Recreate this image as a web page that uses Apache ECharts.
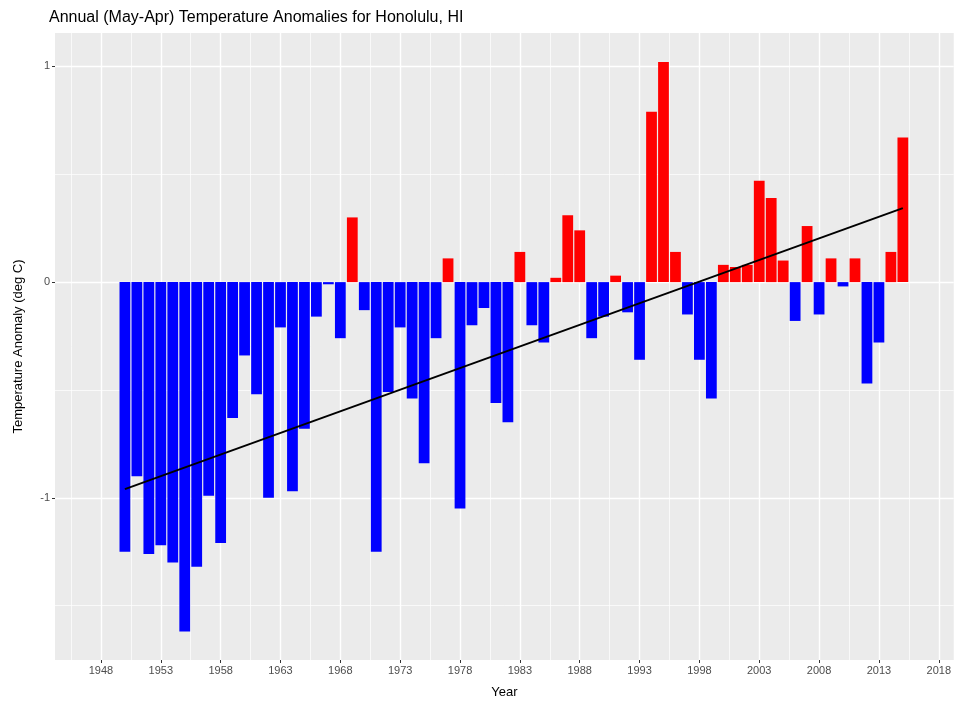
<!DOCTYPE html>
<html>
<head>
<meta charset="utf-8">
<script src="https://cdn.jsdelivr.net/npm/echarts@6/dist/echarts.min.js"></script>
<style>
  html, body { margin: 0; padding: 0; background: #fff; }
  #main { width: 954px; height: 704px; }
</style>
</head>
<body>
<div id="main"></div>
<script>
// annual (May-Apr) anomalies, deg C
var years = [];
for (var y = 1950; y <= 2015; y++) years.push(y);

var anomalies = [
  -1.25, -0.90, -1.26, -1.22, -1.30, -1.62, -1.32, -0.99, -1.21, -0.63,
  -0.34, -0.52, -1.00, -0.21, -0.97, -0.68, -0.16, -0.01, -0.26, 0.30,
  -0.13, -1.25, -0.51, -0.21, -0.54, -0.84, -0.26, 0.11, -1.05, -0.20,
  -0.12, -0.56, -0.65, 0.14, -0.20, -0.28, 0.02, 0.31, 0.24, -0.26,
  -0.16, 0.03, -0.14, -0.36, 0.79, 1.02, 0.14, -0.15, -0.36, -0.54,
  0.08, 0.07, 0.08, 0.47, 0.39, 0.10, -0.18, 0.26, -0.15, 0.11,
  -0.02, 0.11, -0.47, -0.28, 0.14, 0.67
];

// linear trend end points
var trendYears = [1950, 2015];
var trendValues = [-0.96, 0.343];

var xTicks = [1948, 1953, 1958, 1963, 1968, 1973, 1978, 1983, 1988, 1993, 1998, 2003, 2008, 2013, 2018];
var xMinor = [1945.5, 1950.5, 1955.5, 1960.5, 1965.5, 1970.5, 1975.5, 1980.5, 1985.5, 1990.5, 1995.5, 2000.5, 2005.5, 2010.5, 2015.5];
var yTicks = [-1, 0, 1];
var yMinor = [-1.5, -0.5, 0.5];

var myChart = echarts.init(document.getElementById("main"));

var barData = years.map(function(yr, i) {
  var v = anomalies[i];
  return {
    value: [yr, v],
    itemStyle: { color: v >= 0 ? "#FF0000" : "#0000FF" }
  };
});

var trendData = trendYears.map(function(yr, i) {
  return [yr, trendValues[i]];
});

var xMin = 1944.16, xMax = 2019.25;
var yMin = -1.752, yMax = 1.155;
var font = "Liberation Sans";

var option = {
  animation: false,
  backgroundColor: "#FFF",
  title: {
    text: "Annual (May-Apr) Temperature Anomalies for Honolulu, HI",
    left: 44,
    top: 5,
    textStyle: {
      color: "#000",
      fontFamily: font,
      fontSize: 16,
      fontWeight: "normal"
    }
  },
  grid: {
    left: 55,
    right: 0,
    top: 33,
    bottom: 43,
    show: true,
    backgroundColor: "#EBEBEB",
    borderWidth: 0
  },
  xAxis: [
    {
      type: "value",
      min: xMin,
      max: xMax,
      name: "Year",
      nameLocation: "middle",
      nameGap: 26,
      nameTextStyle: { color: "#000", fontFamily: font, fontSize: 13 },
      axisLine: { show: false, onZero: false },
      axisTick: {
        customValues: xTicks,
        length: 3,
        lineStyle: { color: "#333", width: 1 }
      },
      axisLabel: {
        customValues: xTicks,
        formatter: function(v) { return String(v); },
        color: "#4D4D4D",
        fontFamily: font,
        fontSize: 11,
        margin: 5
      },
      splitLine: { show: true, lineStyle: { color: "#FFF", width: 1.4 } }
    },
    {
      type: "value",
      min: xMin,
      max: xMax,
      position: "bottom",
      axisLine: { show: false, onZero: false },
      axisTick: { show: false, customValues: xMinor },
      axisLabel: { show: false, customValues: xMinor },
      splitLine: { show: true, lineStyle: { color: "#FFF", width: 0.7 } }
    }
  ],
  yAxis: [
    {
      type: "value",
      min: yMin,
      max: yMax,
      name: "Temperature Anomaly (deg C)",
      nameLocation: "middle",
      nameRotate: 90,
      nameGap: 30,
      nameTextStyle: { color: "#000", fontFamily: font, fontSize: 13 },
      axisLine: { show: false, onZero: false },
      axisTick: {
        customValues: yTicks,
        length: 3,
        lineStyle: { color: "#333", width: 1 }
      },
      axisLabel: {
        customValues: yTicks,
        formatter: function(v) { return String(v); },
        color: "#4D4D4D",
        fontFamily: font,
        fontSize: 11,
        margin: 5
      },
      splitLine: { show: true, lineStyle: { color: "#FFF", width: 1.4 } }
    },
    {
      type: "value",
      min: yMin,
      max: yMax,
      position: "left",
      axisLine: { show: false, onZero: false },
      axisTick: { show: false, customValues: yMinor },
      axisLabel: { show: false, customValues: yMinor },
      splitLine: { show: true, lineStyle: { color: "#FFF", width: 0.7 } }
    }
  ],
  series: [
    {
      name: "anomaly",
      type: "bar",
      xAxisIndex: 0,
      yAxisIndex: 0,
      barWidth: "90%",
      data: barData,
      z: 3
    },
    {
      name: "trend",
      type: "line",
      xAxisIndex: 0,
      yAxisIndex: 0,
      data: trendData,
      symbol: "none",
      lineStyle: { color: "#000", width: 2 },
      z: 5
    }
  ]
};

myChart.setOption(option);
</script>
</body>
</html>
